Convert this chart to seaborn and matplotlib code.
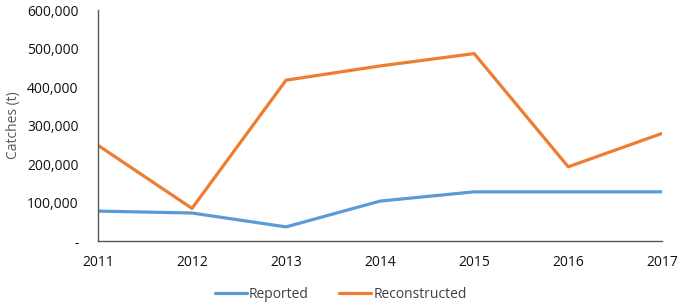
import pandas as pd
import matplotlib
matplotlib.use("Agg")
import matplotlib.pyplot as plt
import matplotlib.ticker as mticker
import seaborn as sns

years = [2011, 2012, 2013, 2014, 2015, 2016, 2017]
reported = [78000, 73000, 37000, 104000, 128000, 128000, 128000]
reconstructed = [249000, 85000, 418000, 455000, 487000, 193000, 280000]

df = pd.DataFrame({
    "Year": years * 2,
    "Catches": reported + reconstructed,
    "Series": ["Reported"] * len(years) + ["Reconstructed"] * len(years),
})

sns.set_style("white")
plt.rcParams["font.family"] = ["Open Sans", "DejaVu Sans"]

fig = plt.figure(figsize=(6.8, 3.06), dpi=100)
ax = fig.add_axes([0.144, 0.212, 0.830, 0.755])

sns.lineplot(data=df, x="Year", y="Catches", hue="Series",
             palette={"Reported": "#5B9BD5", "Reconstructed": "#ED7D31"},
             linewidth=2.3, ax=ax)

ax.set_xlim(2011, 2017)
ax.set_ylim(0, 600000)
ax.set_xticks(years)
ax.set_yticks(range(0, 600001, 100000))

def fmt(v, pos):
    return "-" if v == 0 else f"{int(v):,}"
ax.yaxis.set_major_formatter(mticker.FuncFormatter(fmt))

for s in ["top", "right"]:
    ax.spines[s].set_visible(False)
for s in ["left", "bottom"]:
    ax.spines[s].set_color("#595959")
    ax.spines[s].set_linewidth(1.0)

ax.tick_params(axis="both", direction="in", length=4, width=1, color="#595959",
               labelsize=10, labelcolor="#111111")
ax.tick_params(axis="x", pad=10)
ax.tick_params(axis="y", pad=14)

ax.set_xlabel("")
ax.set_ylabel("Catches (t)", fontsize=10, color="#595959")
ax.yaxis.set_label_coords(-0.136, 0.5)

ax.legend(loc="upper center", bbox_to_anchor=(0.43, -0.145), ncol=2, frameon=False,
          fontsize=10, handlelength=2.3, handletextpad=0.15, columnspacing=2.2,
          labelcolor="#404040")

fig.savefig("out.png", dpi=100)
